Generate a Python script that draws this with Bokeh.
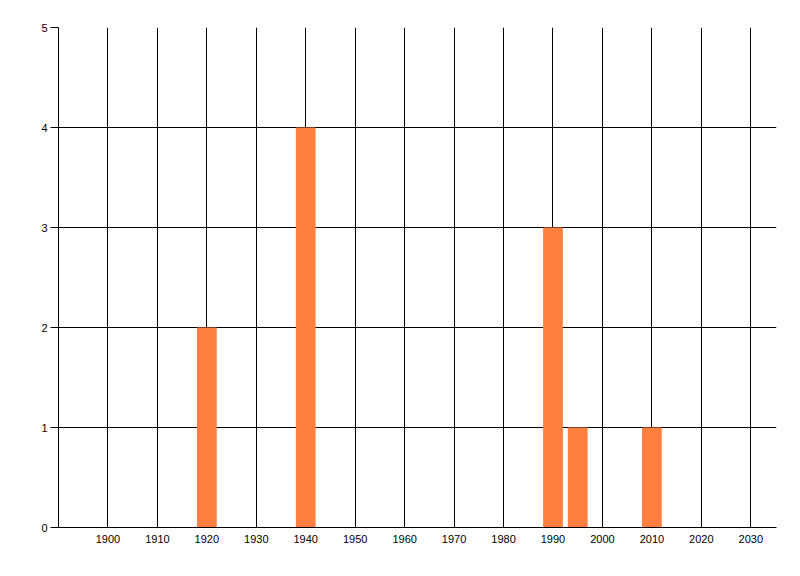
from bokeh.plotting import figure
from bokeh.models import FixedTicker, Range1d, ColumnDataSource
from bokeh.embed import file_html
from bokeh.resources import INLINE

years = [1920, 1940, 1990, 1995, 2010]
counts = [2, 4, 3, 1, 1]
x_ticks = [1900, 1910, 1920, 1930, 1940, 1950, 1960, 1970, 1980, 1990, 2000, 2010, 2020, 2030]
y_ticks = [0, 1, 2, 3, 4, 5]

src = ColumnDataSource(dict(x=years, top=counts))

p = figure(width=792, height=568, output_backend="svg", toolbar_location=None,
           x_range=Range1d(1890, 2035.2), y_range=Range1d(0, 5),
           min_border_left=58, min_border_right=16, min_border_top=27, min_border_bottom=41)
p.outline_line_color = None
p.background_fill_color = "white"
p.border_fill_color = "white"

p.vbar(x="x", top="top", bottom=0, width=4, source=src,
       fill_color="#FF7F40", line_color=None)

p.xaxis.ticker = FixedTicker(ticks=x_ticks)
p.yaxis.ticker = FixedTicker(ticks=y_ticks)
p.xgrid.ticker = FixedTicker(ticks=x_ticks)
p.ygrid.ticker = FixedTicker(ticks=y_ticks)
for g in (p.xgrid, p.ygrid):
    g.grid_line_color = "black"
    g.grid_line_width = 1

for ax in (p.xaxis, p.yaxis):
    ax.axis_line_color = "black"
    ax.axis_line_width = 1
    ax.minor_tick_line_color = None
    ax.major_label_text_font = "Liberation Sans"
    ax.major_label_text_font_size = "11px"
    ax.major_label_text_color = "black"

p.xaxis.major_tick_line_color = None
p.xaxis.major_tick_out = 0
p.xaxis.major_tick_in = 0
p.xaxis.major_label_standoff = 7

p.yaxis.major_tick_line_color = "black"
p.yaxis.major_tick_out = 8
p.yaxis.major_tick_in = 0
p.yaxis.major_label_standoff = 3

open("out.html", "w").write(file_html(p, INLINE))
